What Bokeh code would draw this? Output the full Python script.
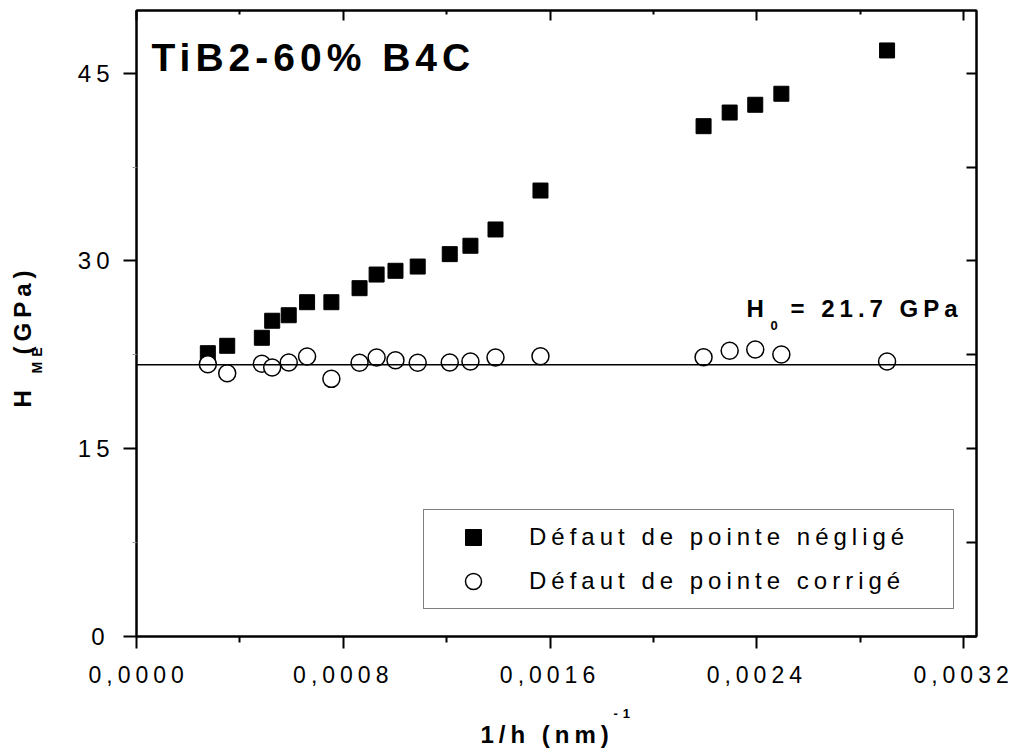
import math
from bokeh.plotting import figure
from bokeh.models import (LinearAxis, FixedTicker, Range1d, Label, Legend, LegendItem, Span,
                          CustomJSTickFormatter)
from bokeh.embed import file_html
from bokeh.resources import INLINE

# ---------------- data ----------------
inv_h = [0.000276, 0.000351, 0.000485, 0.000525, 0.000589, 0.000660, 0.000754,
         0.000863, 0.000929, 0.001002, 0.001088, 0.001212, 0.001292, 0.001389,
         0.001563, 0.002194, 0.002295, 0.002394, 0.002495, 0.002904]
h_neglige = [22.63, 23.22, 23.86, 25.22, 25.66, 26.70, 26.70, 27.82, 28.91, 29.21,
             29.55, 30.54, 31.21, 32.51, 35.62, 40.76, 41.85, 42.47, 43.35, 46.81]
h_corrige = [21.75, 21.03, 21.78, 21.49, 21.88, 22.36, 20.58, 21.86, 22.28, 22.07,
             21.86, 21.88, 21.96, 22.28, 22.39, 22.31, 22.82, 22.92, 22.52, 21.96]
H0 = 21.7

x_ticks = [0.0, 0.0008, 0.0016, 0.0024, 0.0032]
x_tick_labels = ["0,0000", "0,0008", "0,0016", "0,0024", "0,0032"]
x_minor = [0.0004, 0.0012, 0.0020, 0.0028]
y_ticks = [0, 15, 30, 45]
y_minor = [7.5, 22.5, 37.5]
y_right_ticks = [0, 7.5, 15, 22.5, 30, 37.5, 45]

series_labels = ["Défaut de pointe négligé", "Défaut de pointe corrigé"]
title_text = "TiB2-60% B4C"

# ---------------- layout ----------------
W, H = 1014, 754
FL, FR, FT, FB = 136, 976, 10, 636
X0, X1 = 0.0, 0.00325
Y0, Y1 = 0.0, 50.0
FONT = "Liberation Sans"
BASE_SHIFT = 0.38   # empirical shift between requested and drawn baseline (em)
LSPACE = 5          # letter spacing (px) of all texts
XLAB_SHIFT = 15     # px to move x tick labels left, so the letter-spaced text is centred


def dx(px):
    return X0 + (px - FL) * (X1 - X0) / (FR - FL)


def dy(py):
    return Y0 + (FB - py) * (Y1 - Y0) / (FB - FT)


px_per_x = (FR - FL) / (X1 - X0)
sx_shift = XLAB_SHIFT / px_per_x

p = figure(width=W, height=H, x_range=Range1d(X0, X1), y_range=Range1d(Y0, Y1),
           output_backend="svg", toolbar_location=None,
           min_border_left=FL, min_border_right=W - FR,
           min_border_top=FT, min_border_bottom=H - FB)
p.styles = {"letter-spacing": f"{LSPACE}px"}
p.background_fill_color = "white"
p.border_fill_color = "white"
p.grid.visible = False
p.outline_line_color = "black"
p.outline_line_width = 2
p.extra_x_ranges = {"xlab": Range1d(X0 + sx_shift, X1 + sx_shift)}

# bottom axis: ticks only
xa = p.xaxis[0]
xa.ticker = FixedTicker(ticks=x_ticks, minor_ticks=x_minor)
xa.major_tick_out = 12
xa.major_tick_in = 0
xa.minor_tick_out = 6
xa.minor_tick_in = 0
xa.major_tick_line_width = 2
xa.minor_tick_line_width = 2
xa.axis_line_width = 2
xa.major_label_text_font_size = "0px"
xa.major_label_text_color = None
xa.major_label_standoff = 0

# bottom axis: tick labels only (on a range shifted by a few pixels)
fmt = CustomJSTickFormatter(args=dict(vals=x_ticks, labs=x_tick_labels), code="""
    for (let i = 0; i < vals.length; i++) { if (Math.abs(vals[i] - tick) < 1e-9) return labs[i]; }
    return "";
""")
xlab = LinearAxis(x_range_name="xlab", ticker=FixedTicker(ticks=x_ticks, minor_ticks=[]),
                  formatter=fmt,
                  axis_line_color=None, major_tick_in=0, major_tick_out=0,
                  minor_tick_in=0, minor_tick_out=0, major_tick_line_color=None,
                  minor_tick_line_color=None,
                  major_label_text_font=FONT, major_label_text_font_size="23px",
                  major_label_text_color="black", major_label_standoff=17)
p.add_layout(xlab, "below")

ya = p.yaxis[0]
ya.ticker = FixedTicker(ticks=y_ticks, minor_ticks=y_minor)
ya.major_tick_out = 13
ya.major_tick_in = 0
ya.minor_tick_out = 4
ya.minor_tick_in = 0
ya.major_tick_line_width = 2
ya.minor_tick_line_width = 1
ya.minor_tick_line_color = "#999999"
ya.axis_line_width = 2
ya.major_label_text_font = FONT
ya.major_label_text_font_size = "24px"
ya.major_label_text_color = "black"
ya.major_label_standoff = 19

top = LinearAxis(ticker=FixedTicker(ticks=x_ticks, minor_ticks=x_minor),
                 major_tick_in=10, major_tick_out=0, minor_tick_in=4, minor_tick_out=0,
                 major_tick_line_width=2, minor_tick_line_width=2, axis_line_width=2,
                 major_label_text_font_size="0px", major_label_text_color=None,
                 major_label_standoff=0)
p.add_layout(top, "above")
right = LinearAxis(ticker=FixedTicker(ticks=y_right_ticks, minor_ticks=[]),
                   major_tick_in=10, major_tick_out=0, minor_tick_in=0, minor_tick_out=0,
                   major_tick_line_width=2, axis_line_width=2,
                   major_label_text_font_size="0px", major_label_text_color=None,
                   major_label_standoff=0)
p.add_layout(right, "right")

# H0 reference line
p.add_layout(Span(location=H0, dimension="width", line_color="black", line_width=1.5))

r_sq = p.scatter(inv_h, h_neglige, marker="square", size=15,
                 fill_color="black", line_color="black")
r_ci = p.scatter(inv_h, h_corrige, marker="circle", size=17,
                 fill_color="white", line_color="black", line_width=1.5)

legend = Legend(items=[LegendItem(label=series_labels[0], renderers=[r_sq]),
                       LegendItem(label=series_labels[1], renderers=[r_ci])],
                location=(423 - FL, FB - 609), margin=0, padding=7, spacing=4,
                glyph_width=84, glyph_height=40, label_height=40, label_width=417,
                label_standoff=14, label_text_font=FONT, label_text_font_size="24px",
                label_text_color="black",
                border_line_color="black", border_line_width=1.5,
                background_fill_color="white", background_fill_alpha=1.0)
p.add_layout(legend)


def add_text(px, py, text, size, bold=True, angle=0.0, place="center"):
    """px, py: wanted baseline-start of the text in canvas pixels."""
    shift = BASE_SHIFT * size
    if angle:
        px = px - shift
    else:
        py = py - shift
    lab = Label(x=dx(px), y=dy(py), text=text, angle=angle, text_font=FONT,
                text_font_style="bold" if bold else "normal",
                text_font_size=f"{size}px", text_baseline="alphabetic",
                text_align="left", text_color="black")
    p.add_layout(lab, place)


# the first x tick label sits left of the frame edge, so it is placed as a label at its tick
add_text(FL + (x_ticks[0] - X0) * px_per_x - 48, 683, x_tick_labels[0], 23, bold=False,
         place="below")

# title inside plot
add_text(151, 72, title_text, 39)

# H0 annotation
add_text(746, 317, "H", 24)
add_text(770, 330, "0", 13)
add_text(790, 317, "= 21.7 GPa", 24)

# y axis title (rotated)
ang = math.pi / 2
add_text(31, 407, "H", 24, angle=ang, place="left")
add_text(42, 373, "ME", 14, angle=ang, place="left")
add_text(31, 354, "(GPa)", 24, angle=ang, place="left")

# x axis title
add_text(480, 743, "1/h (nm)", 24, place="below")
add_text(613, 718, "-1", 13, place="below")

open("out.html", "w").write(file_html(p, INLINE))
